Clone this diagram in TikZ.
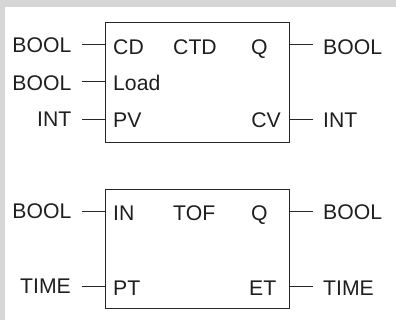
\documentclass[tikz,border=0pt]{standalone}
\usepackage{fontspec}
\setmainfont{Liberation Sans}
\begin{document}
\begin{tikzpicture}[x=1pt,y=-1pt,
  blk/.style={draw=black!85, line width=0.8pt, fill=white, inner sep=0pt, anchor=north west},
  lbl/.style={inner sep=0pt, text=black!88, font=\fontsize{21.2}{24}\selectfont},
  wire/.style={draw=black!85, line width=0.8pt}]
\useasboundingbox (0,0) rectangle (396,320);
\fill[black!16] (0,0) rectangle (396,7);
\fill[black!16] (0,0) rectangle (5,320);
% CTD block
\node[blk, minimum width=184.5pt, minimum height=119.5pt] (ctd) at (104.5,22.5) {};
\node[lbl, anchor=base west] (cd) at (113,55) {CD};
\node[lbl, anchor=base west] (ctdn) at (173,55) {CTD};
\node[lbl, anchor=base west] (q1) at (251,55) {Q};
\node[lbl, anchor=base west] (load) at (113,91) {Load};
\node[lbl, anchor=base west] (pv) at (113,128) {PV};
\node[lbl, anchor=base east] (cv) at (281,128) {CV};
\node[lbl, anchor=base east] (t1) at (71.5,52.7) {BOOL};
\node[lbl, anchor=base east] (t2) at (71.5,90.7) {BOOL};
\node[lbl, anchor=base east] (t3) at (71.5,126.7) {INT};
\node[lbl, anchor=base west] (t4) at (323,55) {BOOL};
\node[lbl, anchor=base west] (t5) at (323,127.3) {INT};
\coordinate (a1) at (82,44);
\coordinate (a2) at (82,81.7);
\coordinate (a3) at (82,119);
\coordinate (a4) at (313,44);
\coordinate (a5) at (313,119);
\draw[wire] (a1) -- (a1 -| ctd.west);
\draw[wire] (a2) -- (a2 -| ctd.west);
\draw[wire] (a3) -- (a3 -| ctd.west);
\draw[wire] (a4) -- (a4 -| ctd.east);
\draw[wire] (a5) -- (a5 -| ctd.east);
% TOF block
\node[blk, minimum width=184.5pt, minimum height=119pt] (tof) at (104.5,189) {};
\node[lbl, anchor=base west] (in) at (113,220.7) {IN};
\node[lbl, anchor=base west] (tofn) at (173,220.7) {TOF};
\node[lbl, anchor=base west] (q2) at (251,220.7) {Q};
\node[lbl, anchor=base west] (pt) at (113,295.7) {PT};
\node[lbl, anchor=base east] (et) at (276.5,295.7) {ET};
\node[lbl, anchor=base east] (t6) at (71.5,218.3) {BOOL};
\node[lbl, anchor=base east] (t7) at (71,293.3) {TIME};
\node[lbl, anchor=base west] (t8) at (323,220) {BOOL};
\node[lbl, anchor=base west] (t9) at (323,295) {TIME};
\coordinate (b1) at (82,211.7);
\coordinate (b2) at (82,286.7);
\coordinate (b3) at (313,211.7);
\coordinate (b4) at (313,286.7);
\draw[wire] (b1) -- (b1 -| tof.west);
\draw[wire] (b2) -- (b2 -| tof.west);
\draw[wire] (b3) -- (b3 -| tof.east);
\draw[wire] (b4) -- (b4 -| tof.east);
\end{tikzpicture}
\end{document}
